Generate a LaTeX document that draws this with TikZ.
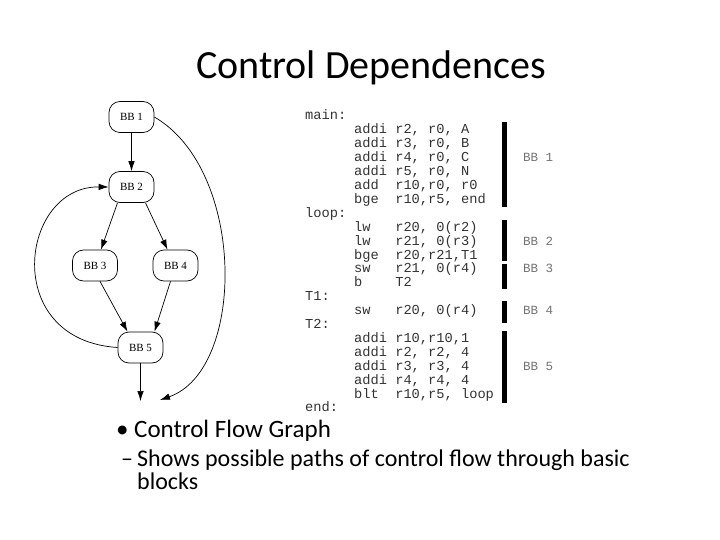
\documentclass[tikz,border=0pt]{standalone}
\usepackage{fontspec}
\setmainfont{Carlito}
\newfontfamily\codefont{Liberation Mono}
\newfontfamily\graphfont{Liberation Serif}
\usetikzlibrary{arrows.meta}
\newcommand\cdl[4]{%
  \node[code] (#1m) at (354,#2) {#3};
  \node[code] (#1o) at (395.1,#2) {#4};}
\begin{document}
\begin{tikzpicture}[x=1pt,y=-1pt,
  bb/.style={draw, line width=0.7pt, rounded corners=11pt, minimum width=45pt, minimum height=31pt, inner sep=0pt, font=\graphfont\fontsize{11}{13}\selectfont},
  edge/.style={line width=0.7pt, -{Latex[length=10pt,width=6.5pt]}},
  code/.style={anchor=base west, inner sep=0pt, font=\codefont\fontsize{13.7}{14}\selectfont, text=black!80},
  bblabel/.style={anchor=base west, inner sep=0pt, font=\codefont\fontsize{12.5}{14}\selectfont, text=black!55},
  bar/.style={fill=black},
  title/.style={anchor=base, inner sep=0pt, font=\fontsize{40}{44}\selectfont},
  lvl1/.style={anchor=base west, inner sep=0pt, font=\fontsize{25}{28}\selectfont},
  lvl2/.style={anchor=base west, inner sep=0pt, font=\fontsize{24}{26}\selectfont}
]
\useasboundingbox (0,0) rectangle (720,540);
% title
\node[title] (title) at (371,79) {Control Dependences};
% graph
\node[bb] (bb1) at (131.5,117) {BB 1};
\node[bb] (bb2) at (131.5,187) {BB 2};
\node[bb] (bb3) at (95,265.5) {BB 3};
\node[bb] (bb4) at (175.5,265.5) {BB 4};
\node[bb] (bb5) at (140.5,347.5) {BB 5};
\coordinate (endB) at (140.5,401);
\coordinate (endR) at (160,400);
\draw[edge] (bb1) -- (bb2);
\draw[edge] ([xshift=-14pt]bb2.south) -- ([xshift=6pt]bb3.north);
\draw[edge] ([xshift=14pt]bb2.south) -- ([xshift=-8pt]bb4.north);
\draw[edge] ([xshift=5pt]bb3.south) -- ([xshift=-13pt]bb5.north);
\draw[edge] ([xshift=-5pt]bb4.south) -- ([xshift=14pt]bb5.north);
\draw[edge] (bb5) -- (endB);
\draw[edge] (bb5.west) .. controls (0,340) and (20,186) .. (bb2.west);
\draw[edge] (bb1.east) .. controls (246,170) and (246,370) .. (endR);
% code
\node[code] (main) at (305,120) {main:};
\cdl{a1}{133.9}{addi}{r2, r0, A}
\cdl{a2}{147.8}{addi}{r3, r0, B}
\cdl{a3}{161.7}{addi}{r4, r0, C}
\cdl{a4}{175.6}{addi}{r5, r0, N}
\cdl{a5}{189.5}{add}{r10,r0, r0}
\cdl{a6}{203.4}{bge}{r10,r5, end}
\node[code] (loop) at (305,217.3) {loop:};
\cdl{b1}{231.2}{lw}{r20, 0(r2)}
\cdl{b2}{245.1}{lw}{r21, 0(r3)}
\cdl{b3}{259}{bge}{r20,r21,T1}
\cdl{c1}{272.9}{sw}{r21, 0(r4)}
\cdl{c2}{286.8}{b}{T2}
\node[code] (t1) at (305,300.7) {T1:};
\cdl{d1}{314.6}{sw}{r20, 0(r4)}
\node[code] (t2) at (305,328.5) {T2:};
\cdl{e1}{342.4}{addi}{r10,r10,1}
\cdl{e2}{356.3}{addi}{r2, r2, 4}
\cdl{e3}{370.2}{addi}{r3, r3, 4}
\cdl{e4}{384.1}{addi}{r4, r4, 4}
\cdl{e5}{398}{blt}{r10,r5, loop}
\node[code] (endl) at (305,411.9) {end:};
% bars
\fill[bar] (502,122) rectangle (507,207);
\fill[bar] (502,220) rectangle (507,261);
\fill[bar] (502,264) rectangle (507,289);
\fill[bar] (502,301) rectangle (507,323);
\fill[bar] (502,331) rectangle (507,403);
\node[bblabel] (lab1) at (523,161.7) {BB 1};
\node[bblabel] (lab2) at (523,245.1) {BB 2};
\node[bblabel] (lab3) at (523,272.9) {BB 3};
\node[bblabel] (lab4) at (523,314.6) {BB 4};
\node[bblabel] (lab5) at (523,370.2) {BB 5};
% bullets
\node[lvl1] (bul1) at (116,437) {•};
\node[lvl1] (txt1) at (134,437) {Control Flow Graph};
\node[lvl2] (bul2) at (121,466) {–};
\node[lvl2] (txt2) at (137,466) {Shows possible paths of control flow through basic};
\node[lvl2] (txt2b) at (137,489.5) {blocks};
\end{tikzpicture}
\end{document}
